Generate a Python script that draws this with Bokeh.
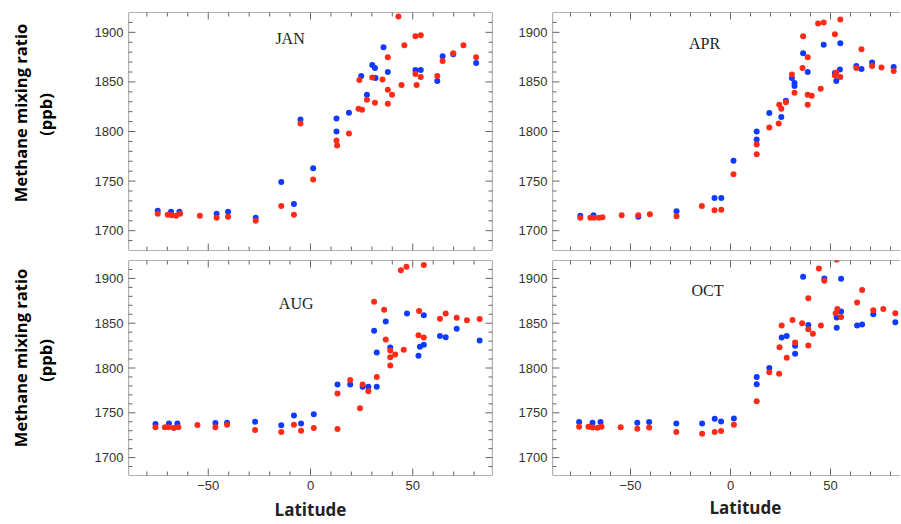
import math
from bokeh.plotting import figure
from bokeh.models import Range1d, SingleIntervalTicker, Label, Span, Title
from bokeh.layouts import column, row
from bokeh.embed import file_html
from bokeh.resources import INLINE

# ---------------- data (latitude, methane ppb) ----------------
jan_blue_lat = [-74.7, -68.2, -64.1, -45.9, -40.3, -26.8, -14.3, -8.1, -4.9, 1.3, 12.7, 12.7, 18.8, 24.8, 27.6,
                30.2, 31.5, 31.8, 35.7, 37.8, 51.3, 53.9, 62.0, 64.6, 69.8, 81.0]
jan_blue_ch4 = [1720, 1719, 1719, 1717, 1719, 1713, 1749, 1727, 1812, 1763, 1813, 1800, 1819, 1856, 1837,
                1867, 1864, 1854, 1885, 1860, 1862, 1862, 1851, 1876, 1878, 1869]
jan_red_lat = [-74.7, -69.8, -67.9, -65.7, -63.8, -54.1, -45.9, -40.3, -26.8, -14.3, -8.1, -4.9, 1.3, 12.7, 13.0,
               18.8, 23.5, 25.2, 23.9, 27.6, 30.2, 31.5, 35.2, 37.8, 37.8, 37.8, 39.9, 43.0, 44.5, 45.9,
               51.3, 53.9, 51.3, 51.9, 53.9, 62.0, 64.6, 69.8, 74.8, 81.0]
jan_red_ch4 = [1717, 1716, 1715.5, 1715, 1717, 1715, 1713, 1714, 1710, 1725, 1716, 1808, 1751.5, 1791, 1786,
               1798, 1823, 1822, 1852, 1832, 1854.5, 1829, 1852.5, 1875, 1842, 1828, 1837, 1916, 1847, 1887,
               1896, 1897, 1858, 1847, 1855, 1856, 1871, 1879, 1887, 1875]

apr_blue_lat = [-75.1, -68.5, -46.1, -27.0, -8.0, -4.6, 1.5, 13.1, 13.1, 19.4, 25.4, 27.7, 30.7, 32.0, 32.0,
                36.3, 38.6, 46.6, 52.2, 52.9, 54.7, 54.9, 62.9, 65.5, 70.8, 81.6]
apr_blue_ch4 = [1715, 1715.5, 1714, 1719.5, 1733, 1733, 1770.5, 1800, 1792, 1818.6, 1814.6, 1831, 1854, 1849, 1846,
                1879, 1860, 1887.6, 1859, 1851, 1862.5, 1889, 1866, 1863, 1869.5, 1865]
apr_red_lat = [-75.1, -70.1, -68.2, -65.7, -64.0, -54.4, -46.1, -40.3, -27.0, -14.3, -8.0, -4.6, 1.5, 13.1, 13.1,
               19.4, 24.1, 24.4, 25.4, 27.7, 30.7, 32.0, 36.0, 36.3, 38.6, 38.6, 38.6, 40.6, 45.1, 43.8,
               46.6, 52.2, 52.2, 52.9, 54.9, 54.9, 62.9, 65.5, 70.8, 75.5, 81.6]
apr_red_ch4 = [1713, 1713, 1713, 1713, 1713.5, 1715.5, 1715.5, 1716.5, 1714.5, 1725, 1720.5, 1721, 1757, 1787, 1777,
               1804, 1808, 1827, 1823, 1829.6, 1857.5, 1839, 1864, 1896, 1875, 1837, 1827, 1836, 1843, 1909,
               1910, 1898, 1856.5, 1859.5, 1913, 1855, 1864, 1883, 1866, 1864.5, 1861]

aug_blue_lat = [-75.8, -69.2, -65.1, -46.5, -40.8, -27.1, -14.3, -8.1, -4.6, 1.6, 13.2, 19.4, 25.5, 28.3, 31.1,
                32.4, 32.4, 36.8, 39.0, 47.2, 52.8, 53.5, 55.4, 55.4, 63.3, 66.1, 71.5, 82.7]
aug_blue_ch4 = [1737.4, 1738, 1738, 1738.5, 1739, 1740, 1736, 1747, 1738, 1748.4, 1781.5, 1781.5, 1779, 1779, 1841.7,
                1817.4, 1779, 1852, 1823, 1860.7, 1813.8, 1823.7, 1826, 1859, 1835.8, 1834.3, 1843.9, 1830.6]
aug_red_lat = [-75.8, -71.2, -69.2, -66.8, -64.6, -55.3, -46.5, -40.8, -27.1, -14.3, -8.1, -4.6, 1.6, 13.2, 13.2,
               19.4, 24.2, 25.5, 28.3, 31.1, 32.4, 36.0, 36.8, 39.0, 39.0, 39.0, 41.4, 44.2, 46.9, 45.6,
               53.1, 52.8, 55.4, 55.4, 63.3, 66.1, 71.5, 76.5, 82.7]
aug_red_ch4 = [1733.8, 1733.8, 1733.8, 1733, 1734, 1736.3, 1734, 1736.7, 1730.8, 1728.6, 1736.7, 1730, 1733, 1771.6, 1732,
               1786.6, 1755, 1781.5, 1774, 1874, 1790, 1865, 1831.7, 1819.6, 1812, 1802.8, 1815, 1909, 1913, 1820.4,
               1863.7, 1836.5, 1834, 1915, 1855, 1860.7, 1856, 1853.3, 1854.8]

oct_blue_lat = [-75.7, -69.0, -65.0, -46.6, -40.7, -27.1, -14.2, -7.9, -4.7, 1.7, 13.1, 13.1, 19.4, 25.6, 28.1,
                32.3, 32.3, 36.3, 38.9, 46.9, 53.1, 53.1, 55.3, 55.3, 63.3, 65.8, 71.4, 82.4]
oct_blue_ch4 = [1739.6, 1739, 1739.6, 1739, 1739.6, 1738, 1738, 1743.3, 1740.4, 1743.7, 1790, 1781.9, 1800, 1834, 1835.6,
                1816, 1824.8, 1901.9, 1848, 1900, 1856.3, 1844.8, 1863, 1899.6, 1847.4, 1848.5, 1860, 1851]
oct_red_lat = [-75.7, -71.0, -69.0, -66.5, -64.5, -54.9, -46.6, -40.7, -27.1, -14.2, -7.9, -4.7, 1.7, 13.1, 19.4,
               24.3, 24.5, 25.6, 28.1, 31.0, 32.3, 35.8, 38.9, 38.9, 38.9, 41.2, 44.2, 45.2, 46.9, 53.1,
               52.6, 53.4, 55.3, 63.3, 65.8, 71.4, 76.4, 82.4]
oct_red_ch4 = [1734.4, 1734.4, 1733.7, 1733.3, 1734.4, 1734, 1732.2, 1733.7, 1728.5, 1726.7, 1728.5, 1729.6, 1736.7, 1763, 1795.2,
               1793.7, 1823.3, 1847.4, 1811.5, 1853.7, 1828.5, 1850, 1877.8, 1843.3, 1825.2, 1838.1, 1911, 1847.4, 1897.4, 1921,
               1861, 1866, 1857, 1873, 1887, 1864.4, 1866, 1861]

months = ["JAN", "APR", "AUG", "OCT"]
month_label_x = [-10, -13, -7, -11.5]
month_label_y = [1894, 1889, 1872, 1887]
y_label_1 = "Methane mixing ratio"
y_label_2 = "(ppb)"
x_label = "Latitude"

# tick positions (major labelled every 50, minor every 10)
x_major_ticks = [-50, 0, 50]
x_minor_ticks = [-80, -70, -60, -40, -30, -20, -10, 10, 20, 30, 40, 60, 70, 80]
y_major_ticks = [1700, 1750, 1800, 1850, 1900]
y_minor_ticks = [1690, 1710, 1720, 1730, 1740, 1760, 1770, 1780, 1790, 1810, 1820, 1830, 1840,
                 1860, 1870, 1880, 1890, 1910]

X_START, X_END_LEFT, X_END_RIGHT = -89, 89, 85
Y_START, Y_END = 1680, 1920

RED = "#ff2a17"
BLUE = "#0e3bff"
FRAME = "#666666"
TICK_FONT = "Liberation Sans"
BOLD_FONT = "Open Sans"

LABEL_COL_W = 70
TOP_H = 12 + 238 + 5
BOT_H = 5 + 218 + 45
TOTAL_H = TOP_H + BOT_H


def style_axis(ax):
    ax.ticker = SingleIntervalTicker(interval=50, num_minor_ticks=5)
    ax.major_tick_in = 0
    ax.major_tick_out = 0
    ax.minor_tick_in = 0
    ax.minor_tick_out = 0
    ax.axis_line_color = None
    ax.major_label_text_font = TICK_FONT
    ax.major_label_text_font_size = "13px"
    ax.major_label_text_color = "#333333"
    ax.major_label_standoff = 5


def label_column():
    """Narrow blank plot spanning both rows that only carries the rotated y-axis titles."""
    f = figure(width=LABEL_COL_W, height=TOTAL_H, x_range=Range1d(0, LABEL_COL_W), y_range=Range1d(0, TOTAL_H),
               output_backend="svg", toolbar_location=None, x_axis_location=None, y_axis_location=None,
               title=None, min_border=0, min_border_left=0, min_border_right=0,
               min_border_top=0, min_border_bottom=0)
    f.grid.visible = False
    f.outline_line_color = None
    f.background_fill_color = "white"
    f.border_fill_color = "white"
    # centres (from the top of the page) of the two title lines in each row
    for x, y_from_top, t in ((20, 112.5, y_label_1), (45, 114, y_label_2),
                             (20, 357.5, y_label_1), (45, 360, y_label_2)):
        f.add_layout(Label(x=x, y=TOTAL_H - y_from_top, text=t, angle=math.pi / 2, text_font=BOLD_FONT,
                           text_font_size="16.5px", text_font_style="bold", text_color="black",
                           text_align="center", text_baseline="middle"))
    return f


def panel(i, rlat, rval, blat, bval, is_left, is_top):
    frame_w = 364 if is_left else 348
    frame_h = 238 if is_top else 218
    bl = (128 - LABEL_COL_W) if is_left else 56
    br = 4 if is_left else 0
    bt = 12 if is_top else 5
    bb = 5 if is_top else 45
    x_end = X_END_LEFT if is_left else X_END_RIGHT
    p = figure(width=bl + frame_w + br, height=bt + frame_h + bb,
               x_range=Range1d(X_START, x_end), y_range=Range1d(Y_START, Y_END),
               output_backend="svg", toolbar_location=None, title=None,
               x_axis_location=None if is_top else "below", y_axis_location="left",
               min_border_left=bl, min_border_right=br, min_border_top=bt, min_border_bottom=bb)
    p.grid.visible = False
    p.background_fill_color = "white"
    p.border_fill_color = "white"
    p.outline_line_color = None

    style_axis(p.yaxis[0])
    if not is_top:
        xa = p.xaxis[0]
        style_axis(xa)
        if is_left:
            xa.axis_label = x_label
            xa.axis_label_text_font = BOLD_FONT
            xa.axis_label_text_font_style = "bold"
            xa.axis_label_text_font_size = "17px"
            xa.axis_label_text_color = "#222222"
            xa.axis_label_standoff = 5
        else:
            p.add_layout(Title(text=x_label, align="left", offset=157, standoff=2,
                               text_font=BOLD_FONT, text_font_style="bold", text_font_size="17px",
                               text_color="#222222"), "below")

    # frame edges
    edges = [Span(location=Y_END, dimension="width"), Span(location=Y_START, dimension="width"),
             Span(location=X_START, dimension="height")]
    if is_left:
        edges.append(Span(location=x_end, dimension="height"))
    for s in edges:
        s.line_color = FRAME
        s.line_width = 1.2
        p.add_layout(s)

    # inward tick marks (dash markers centred on the frame edge, outer half clipped away)
    for ys in (Y_START, Y_END):
        p.scatter(x_major_ticks, [ys] * len(x_major_ticks), marker="dash", angle=math.pi / 2,
                  size=14, line_color=FRAME, line_width=1)
        p.scatter(x_minor_ticks, [ys] * len(x_minor_ticks), marker="dash", angle=math.pi / 2,
                  size=8, line_color=FRAME, line_width=1)
    for xs in ((X_START, x_end) if is_left else (X_START,)):
        p.scatter([xs] * len(y_major_ticks), y_major_ticks, marker="dash", angle=0,
                  size=14, line_color=FRAME, line_width=1)
        p.scatter([xs] * len(y_minor_ticks), y_minor_ticks, marker="dash", angle=0,
                  size=8, line_color=FRAME, line_width=1)

    p.scatter(blat, bval, size=6, color=BLUE, line_color=None)
    p.scatter(rlat, rval, size=6, color=RED, line_color=None)

    p.add_layout(Label(x=month_label_x[i], y=month_label_y[i], text=months[i],
                       text_font="Liberation Serif", text_font_size="16px", text_color="#222222",
                       text_align="center", text_baseline="middle"))
    return p


p1 = panel(0, jan_red_lat, jan_red_ch4, jan_blue_lat, jan_blue_ch4, True, True)
p2 = panel(1, apr_red_lat, apr_red_ch4, apr_blue_lat, apr_blue_ch4, False, True)
p3 = panel(2, aug_red_lat, aug_red_ch4, aug_blue_lat, aug_blue_ch4, True, False)
p4 = panel(3, oct_red_lat, oct_red_ch4, oct_blue_lat, oct_blue_ch4, False, False)

labels = label_column()

layout = row(labels, column(row(p1, p2), row(p3, p4)))
open("out.html", "w").write(file_html(layout, INLINE))
